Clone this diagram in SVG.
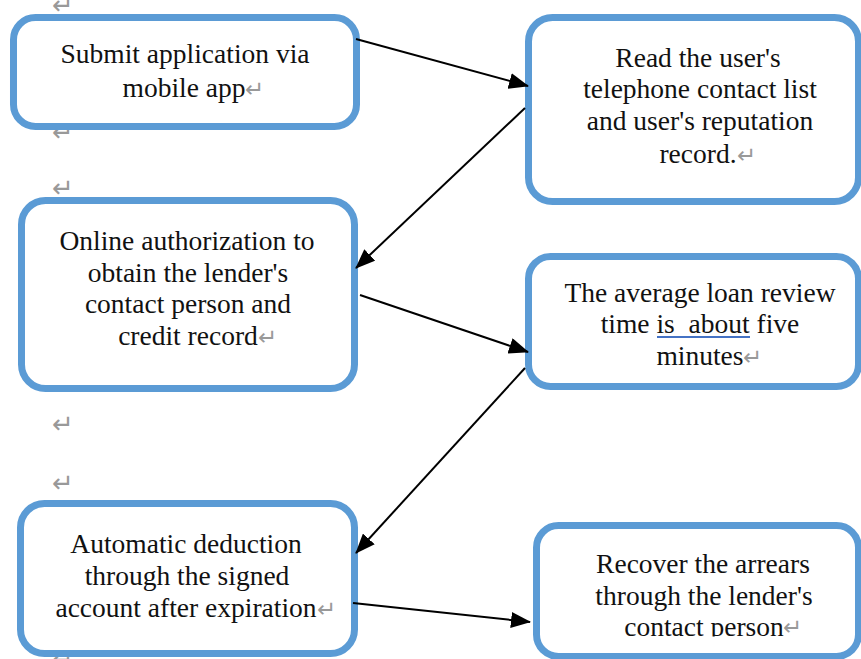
<svg xmlns="http://www.w3.org/2000/svg" width="861" height="659" viewBox="0 0 861 659">
<style>
.box{fill:#fff;stroke:#5b9bd5;stroke-width:7}
.t{font-family:"Liberation Serif","Times New Roman",serif;font-size:27.5px;fill:#111;text-anchor:middle}
.pm{font-family:"DejaVu Sans",sans-serif;font-size:23px;fill:#999}
.pmo{font-family:"DejaVu Sans",sans-serif;font-size:26px;fill:#999}
.c{stroke:#000;stroke-width:2;fill:none;marker-end:url(#ah)}
</style>
<defs>
<marker id="ah" viewBox="0 0 20 16" refX="19" refY="8" markerWidth="20" markerHeight="16" markerUnits="userSpaceOnUse" orient="auto">
<path d="M0,0 L20,8 L0,16 z" fill="#000"/>
</marker>
<clipPath id="clip6"><rect x="530" y="600" width="331" height="36.5"/></clipPath>
</defs>
<rect width="861" height="659" fill="#fff"/>
<g id="para-marks">
<text class="pmo" x="52" y="14">↵</text>
<text class="pmo" x="52" y="141">↵</text>
<text class="pmo" x="52" y="197">↵</text>
<text class="pmo" x="52" y="433">↵</text>
<text class="pmo" x="52" y="492">↵</text>
<text class="pmo" x="52" y="668">↵</text>
</g>
<g id="n1">
<rect class="box" x="13.5" y="17.5" width="343" height="109" rx="22"/>
<text class="t" x="185" y="63">Submit application via</text>
<text class="t" x="184" y="97">mobile app</text>
<text class="pm" x="245" y="97">↵</text>
</g>
<g id="n2">
<rect class="box" x="528.5" y="17.5" width="330" height="184" rx="24"/>
<text class="t" x="698" y="67">Read the user's</text>
<text class="t" x="700" y="98">telephone contact list</text>
<text class="t" x="700" y="130">and user's reputation</text>
<text class="t" x="698" y="163">record.</text>
<text class="pm" x="737" y="163">↵</text>
</g>
<g id="n3">
<rect class="box" x="21.5" y="200.5" width="333" height="188" rx="24"/>
<text class="t" x="187" y="250">Online authorization to</text>
<text class="t" x="188" y="282">obtain the lender's</text>
<text class="t" x="188" y="313">contact person and</text>
<text class="t" x="188" y="345">credit record</text>
<text class="pm" x="258" y="345">↵</text>
</g>
<g id="n4">
<rect class="box" x="528.5" y="256.5" width="330" height="130" rx="22"/>
<text class="t" x="700" y="302">The average loan review</text>
<text class="t" x="700" y="333" xml:space="preserve">time is  about five</text>
<line x1="657" y1="337" x2="750" y2="337" stroke="#4472c4" stroke-width="2"/>
<text class="t" x="700" y="365">minutes</text>
<text class="pm" x="743" y="365">↵</text>
</g>
<g id="n5">
<rect class="box" x="20.5" y="503.5" width="334" height="150" rx="24"/>
<text class="t" x="186" y="553">Automatic deduction</text>
<text class="t" x="187" y="585">through the signed</text>
<text class="t" x="186" y="617">account after expiration</text>
<text class="pm" x="317" y="617">↵</text>
</g>
<g id="n6">
<rect class="box" x="536.5" y="525.5" width="322" height="131" rx="22"/>
<text class="t" x="703" y="573">Recover the arrears</text>
<text class="t" x="704" y="605">through the lender's</text>
<text class="t" x="704" y="636" clip-path="url(#clip6)">contact person</text>
<text class="pm" x="783" y="635">↵</text>
</g>
<g id="connectors">
<line class="c" x1="356" y1="39" x2="528" y2="86"/>
<line class="c" x1="525" y1="108" x2="356" y2="268"/>
<line class="c" x1="360" y1="295" x2="528" y2="352"/>
<line class="c" x1="525" y1="368" x2="356" y2="553"/>
<line class="c" x1="353" y1="603" x2="530" y2="622"/>
</g>
</svg>
